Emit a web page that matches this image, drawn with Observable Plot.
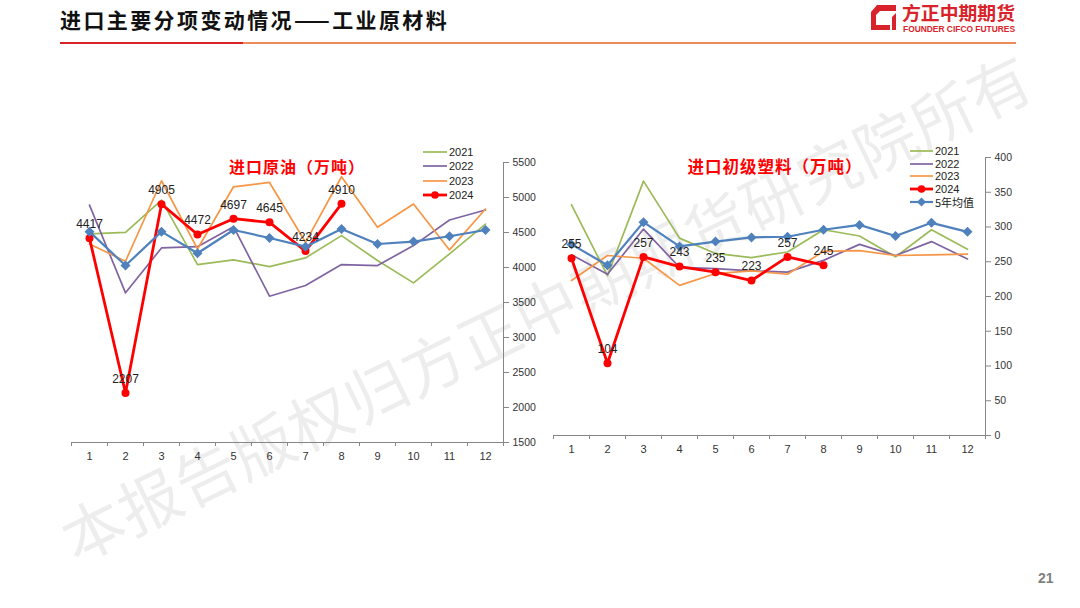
<!DOCTYPE html>
<html><head><meta charset="utf-8">
<script src="https://cdn.jsdelivr.net/npm/d3@7"></script>
<script src="https://cdn.jsdelivr.net/npm/@observablehq/plot@0.6"></script>
<style>
html,body{margin:0;padding:0;}
body{width:1080px;height:608px;background:#fff;position:relative;overflow:hidden;font-family:"Noto Sans CJK SC","Noto Sans",sans-serif;}
.abs{position:absolute;}
#watermark{position:absolute;left:545px;top:305px;transform:translate(-50%,-50%) rotate(-26deg);font-size:62px;letter-spacing:1px;color:rgba(0,0,0,0.07);white-space:nowrap;z-index:0;font-family:"Noto Sans CJK SC";}
#pageTitle{left:60px;top:4px;font-size:21px;font-weight:bold;color:#111;letter-spacing:2.4px;}
#rule1{left:60px;top:41.5px;width:183px;height:2.5px;background:#d9232a;}
#rule2{left:243px;top:42px;width:773px;height:2px;background:#ee8a5a;}
#pageNum{left:1038px;top:570px;font-size:14px;font-weight:bold;color:#7f7f7f;font-family:"Liberation Sans",sans-serif;}
.chart{position:absolute;z-index:1;}
.ctitle{position:absolute;transform:translate(-50%,-50%);font-weight:bold;color:#ff0000;white-space:nowrap;z-index:2;letter-spacing:1px;}
.legend{position:absolute;z-index:2;font-family:"Liberation Sans",sans-serif;font-size:11px;color:#222;}
.legend .row{position:absolute;left:0;display:flex;align-items:center;white-space:nowrap;transform:translateY(-50%);}
.legend .row span{margin-left:2px;}
.legend .row span.cjk{font-family:"Noto Sans CJK SC";font-size:11px;}
</style></head><body>
<div id="watermark">本报告版权归方正中期期货研究院所有</div>
<div id="pageTitle" class="abs">进口主要分项变动情况——工业原材料</div>
<div id="rule1" class="abs"></div>
<div id="rule2" class="abs"></div>
<svg class="abs" style="left:868px;top:0px;overflow:visible" width="170" height="40" viewBox="0 0 170 40">
  <path d="M9 5 L28 5 L28 11 L12 11 L8 15 L8 25 L22 25 L22 30 L3 30 L3 12 Z" fill="#d9232a"/>
  <path d="M24 17 L28 13 L28 30 L24 30 Z" fill="#d9232a"/>
  <text x="34" y="19.5" font-size="18.5" font-weight="bold" fill="#d9232a" font-family="Noto Sans CJK SC" textLength="113" lengthAdjust="spacingAndGlyphs">方正中期期货</text>
  <text x="35" y="31.5" font-size="8.5" font-weight="bold" fill="#d9232a" font-family="Liberation Sans" textLength="112" lengthAdjust="spacingAndGlyphs">FOUNDER CIFCO FUTURES</text>
</svg>
<div id="pageNum" class="abs">21</div>

<div id="chartL" class="chart" style="left:40px;top:140px"></div>
<div id="chartR" class="chart" style="left:530px;top:135px"></div>
<div class="ctitle" style="left:297px;top:166px;font-size:16px">进口原油（万吨）</div>
<div class="ctitle" style="left:775px;top:166px;font-size:16.5px">进口初级塑料（万吨）</div>
<div id="legendL" class="legend" style="left:423px;top:0px"></div>
<div id="legendR" class="legend" style="left:910px;top:0px"></div>

<script>
// ---------- data ----------
const months = [1,2,3,4,5,6,7,8,9,10,11,12];
const seriesNames = ["2021","2022","2023","2024","5年均值"];
const seriesColors = ["#9bbb59","#8064a2","#f79646","#ff0000","#4f81bd"];

// 进口原油（万吨）
const oil2021 = [4479,4502,4963,4042,4108,4013,4137,4455,4099,3780,4194,4621];
const oil2022 = [4892,3638,4279,4298,4583,3590,3743,4042,4028,4313,4678,4821];
const oil2023 = [4336,4089,5239,4265,5153,5215,4360,5296,4574,4906,4251,4835];
const oil2024 = [4417,2207,4905,4472,4697,4645,4234,4910];
const oilAvg  = [4512,4028,4512,4203,4536,4422,4298,4550,4336,4370,4446,4536];
const oilTicks = [1500,2000,2500,3000,3500,4000,4500,5000,5500];

// 进口初级塑料（万吨）
const pl2021 = [332,230,366,284,262,256,264,296,287,257,296,268];
const pl2022 = [260,232,297,242,240,237,235,252,275,259,279,254];
const pl2023 = [223,259,255,216,233,237,232,265,266,259,260,261];
const pl2024 = [255,104,257,243,235,223,257,245];
const plAvg  = [275,245,307,272,279,285,286,296,303,287,306,293];
const plTicks = [0,50,100,150,200,250,300,350,400];

const tickFmt = d => String(d);

function rows(values, name) {
  return values.map((v, i) => ({month: months[i], value: v, series: name}));
}

function makeChart(cfg) {
  const [s21, s22, s23, s24, sAvg] = cfg.series.map((v, i) => rows(v, seriesNames[i]));
  const thin = {x: "month", y: "value", strokeWidth: 1.7};
  return Plot.plot({
    width: cfg.width, height: cfg.height,
    marginLeft: cfg.ml, marginRight: cfg.mr, marginTop: cfg.mt, marginBottom: cfg.mb,
    style: {background: "transparent", fontFamily: "Liberation Sans, sans-serif", color: "#333", overflow: "visible"},
    x: {domain: [0.5, 12.5]},
    y: {domain: cfg.yDomain},
    marks: [
      Plot.ruleY([cfg.yDomain[0]], {stroke: "#868686", strokeWidth: 1}),
      Plot.ruleX([12.5], {stroke: "#868686", strokeWidth: 1}),
      Plot.axisX({ticks: d3.range(0.5, 13, 1), tickFormat: () => "", tickSize: 4, stroke: "#868686", label: null}),
      Plot.axisX({ticks: months, tickFormat: tickFmt, tickSize: 0, tickPadding: 10, fontSize: 11, label: null}),
      Plot.axisY({anchor: "right", ticks: cfg.yTicks, tickFormat: tickFmt, tickSize: 5, tickPadding: 4, stroke: "#868686", fontSize: 10.5, label: null}),
      Plot.line(s21, {...thin, stroke: seriesColors[0]}),
      Plot.line(s22, {...thin, stroke: seriesColors[1]}),
      Plot.line(s23, {...thin, stroke: seriesColors[2]}),
      Plot.line(s24, {x: "month", y: "value", stroke: seriesColors[3], strokeWidth: 2.8}),
      Plot.dot(s24, {x: "month", y: "value", fill: seriesColors[3], r: 4}),
      Plot.line(sAvg, {x: "month", y: "value", stroke: seriesColors[4], strokeWidth: 2.2}),
      Plot.dot(sAvg, {x: "month", y: "value", fill: seriesColors[4], symbol: "diamond2", r: 4.5}),
      Plot.text(s24, {x: "month", y: "value", text: d => String(d.value), dy: -14, fontSize: 12, fill: "#222"})
    ]
  });
}

document.getElementById("chartL").appendChild(makeChart({
  series: [oil2021, oil2022, oil2023, oil2024, oilAvg],
  yDomain: [1500, 5500], yTicks: oilTicks,
  width: 520, height: 330, ml: 31, mr: 57, mt: 22, mb: 28
}));
document.getElementById("chartR").appendChild(makeChart({
  series: [pl2021, pl2022, pl2023, pl2024, plAvg],
  yDomain: [0, 400], yTicks: plTicks,
  width: 500, height: 330, ml: 23, mr: 45, mt: 22, mb: 30
}));

function legend(el, names, ys, lineW) {
  names.forEach((name, k) => {
    const i = seriesNames.indexOf(name);
    const row = document.createElement("div");
    row.className = "row";
    row.style.top = ys[k] + "px";
    const ns = "http://www.w3.org/2000/svg";
    const svg = document.createElementNS(ns, "svg");
    svg.setAttribute("width", lineW); svg.setAttribute("height", 10);
    const ln = document.createElementNS(ns, "line");
    ln.setAttribute("x1", 0); ln.setAttribute("x2", lineW); ln.setAttribute("y1", 5); ln.setAttribute("y2", 5);
    ln.setAttribute("stroke", seriesColors[i]);
    ln.setAttribute("stroke-width", i === 3 ? 2.8 : (i === 4 ? 2.2 : 1.7));
    svg.appendChild(ln);
    if (i === 3) {
      const c = document.createElementNS(ns, "circle");
      c.setAttribute("cx", lineW / 2); c.setAttribute("cy", 5); c.setAttribute("r", 3.8); c.setAttribute("fill", seriesColors[i]);
      svg.appendChild(c);
    } else if (i === 4) {
      const p = document.createElementNS(ns, "path");
      const cx = lineW / 2;
      p.setAttribute("d", `M${cx} 0.5 L${cx + 4.5} 5 L${cx} 9.5 L${cx - 4.5} 5 Z`);
      p.setAttribute("fill", seriesColors[i]);
      svg.appendChild(p);
    }
    row.appendChild(svg);
    const sp = document.createElement("span");
    sp.textContent = name;
    if (/[^\x00-\x7f]/.test(name)) sp.className = "cjk";
    row.appendChild(sp);
    el.appendChild(row);
  });
}
legend(document.getElementById("legendL"), ["2021","2022","2023","2024"], [152, 166.3, 180.6, 194.9], 24);
legend(document.getElementById("legendR"), ["2021","2022","2023","2024","5年均值"], [151, 163.7, 176.3, 189, 201.7], 23);
</script>
</body></html>
